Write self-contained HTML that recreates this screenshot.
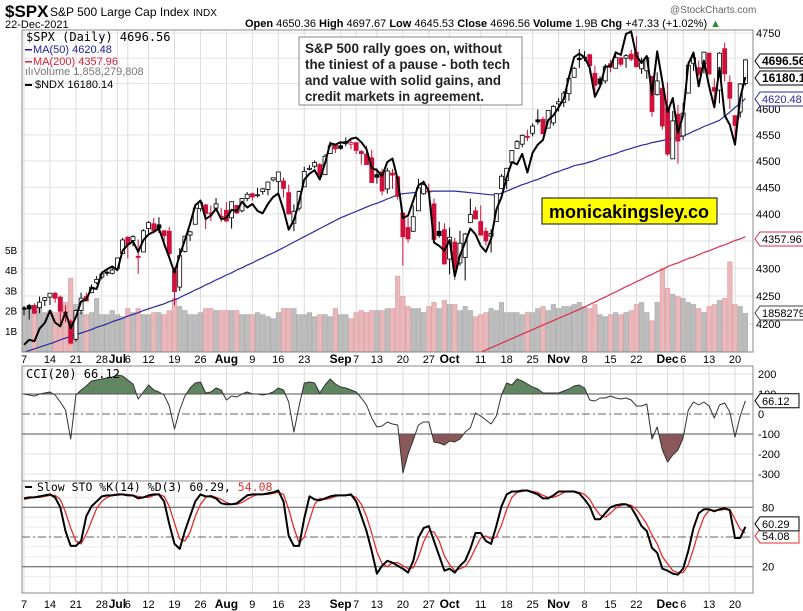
<!DOCTYPE html>
<html><head><meta charset="utf-8"><style>
html,body{margin:0;padding:0;background:#fff;}
svg{display:block;font-family:"Liberation Sans",Arial,sans-serif;}
</style></head><body>
<svg id="chart" width="803" height="611" viewBox="0 0 803 611" xmlns="http://www.w3.org/2000/svg">
<defs>
<clipPath id="mainClip"><rect x="22" y="30" width="731" height="322"/></clipPath>
<clipPath id="cciClip"><rect x="22" y="366" width="731" height="115"/></clipPath>
<clipPath id="stoClip"><rect x="22" y="481" width="731" height="112"/></clipPath>
<clipPath id="cciUp"><rect x="22" y="366" width="731" height="28"/></clipPath>
<clipPath id="cciDn"><rect x="22" y="434" width="731" height="47"/></clipPath>
</defs>
<g>
<text x="5" y="17" font-size="17" font-weight="bold">$SPX</text>
<text x="50" y="16" font-size="12">S&amp;P 500 Large Cap Index</text>
<text x="193" y="16" font-size="10">INDX</text>
<text x="5" y="28" font-size="11">22-Dec-2021</text>
<text x="670" y="13" font-size="10" fill="#666">@StockCharts.com</text>
<text x="245" y="27" font-size="11"><tspan font-weight="bold">Open</tspan> 4650.36 <tspan font-weight="bold">High</tspan> 4697.67 <tspan font-weight="bold">Low</tspan> 4645.53 <tspan font-weight="bold">Close</tspan> 4696.56 <tspan font-weight="bold">Volume</tspan> 1.9B <tspan font-weight="bold">Chg</tspan> +47.33 (+1.02%) <tspan fill="#2a8a2a">▲</tspan></text>
</g>
<g id="grid"></g>
<g id="main" clip-path="url(#mainClip)"></g>
<g id="cci"></g>
<g id="sto"></g>
<g id="axes"></g>
<g font-family="'DejaVu Sans Mono','Liberation Mono',monospace" font-size="11">
<text x="26" y="41" font-size="12">$SPX (Daily) 4696.56</text>
<rect x="25" y="49" width="7" height="1.5" fill="#1f1f9a"/><text x="33" y="53" fill="#1f1f9a" font-family="Liberation Sans" font-size="11">MA(50) 4620.48</text>
<rect x="25" y="61" width="7" height="1.5" fill="#d4203a"/><text x="33" y="65" fill="#d4203a" font-family="Liberation Sans" font-size="11">MA(200) 4357.96</text>
<text x="25" y="75" fill="#777" font-family="Liberation Sans" font-size="11">ılıVolume 1,858,279,808</text>
<rect x="25" y="84" width="7" height="2" fill="#000"/><text x="35" y="88" font-family="Liberation Sans" font-size="11">$NDX 16180.14</text>
</g>
<g>
<rect x="299" y="37" width="223" height="68" fill="#fff" stroke="#888" stroke-width="1"/>
<text x="305" y="53" font-size="14" font-weight="bold" fill="#222" textLength="197" lengthAdjust="spacingAndGlyphs">S&amp;P 500 rally goes on, without</text>
<text x="305" y="69" font-size="14" font-weight="bold" fill="#222" textLength="205" lengthAdjust="spacingAndGlyphs">the tiniest of a pause - both tech</text>
<text x="305" y="85" font-size="14" font-weight="bold" fill="#222" textLength="196" lengthAdjust="spacingAndGlyphs">and value with solid gains, and</text>
<text x="305" y="101" font-size="14" font-weight="bold" fill="#222" textLength="179" lengthAdjust="spacingAndGlyphs">credit markets in agreement.</text>
</g>
<g>
<rect x="542" y="198" width="175" height="26" fill="#ffff00" stroke="#333" stroke-width="1.2"/>
<text x="629" y="218" font-size="18" font-weight="bold" text-anchor="middle" textLength="160" lengthAdjust="spacingAndGlyphs">monicakingsley.co</text>
</g>
<g><text x="26" y="378" font-size="12" font-family="'DejaVu Sans Mono',monospace">CCI(20) 66.12</text></g>
<g><rect x="25" y="486" width="7" height="2" fill="#000"/><text x="37" y="491" font-size="11.5" font-family="'DejaVu Sans Mono',monospace">Slow STO %K(14) %D(3) 60.29, <tspan fill="#e03030">54.08</tspan></text></g>
</svg>
<script>
const dates=["7","8","9","10","11","14","15","16","17","18","21","22","23","24","25","28","29","30","Jul1","2","6","7","8","9","12","13","14","15","16","19","20","21","22","23","26","27","28","29","30","Aug2","3","4","5","6","9","10","11","12","13","16","17","18","19","20","23","24","25","26","27","30","31","Sep1","2","3","7","8","9","10","13","14","15","16","17","20","21","22","23","24","27","28","29","30","Oct1","4","5","6","7","8","11","12","13","14","15","18","19","20","21","22","25","26","27","28","29","Nov1","2","3","4","5","8","9","10","11","12","15","16","17","18","19","22","23","24","26","29","30","Dec1","2","3","6","7","8","9","10","13","14","15","16","17","20","21","22"];
const opens=[4229,4233,4233,4229,4242,4248,4255,4248,4220,4205,4173,4224,4249,4256,4274,4284,4293,4291,4300,4327,4357,4351,4322,4330,4373,4382,4380,4369,4368,4296,4266,4331,4361,4381,4410,4417,4402,4411,4396,4407,4393,4416,4406,4429,4438,4436,4442,4446,4464,4461,4462,4440,4383,4411,4451,4484,4490,4493,4474,4514,4530,4529,4534,4532,4535,4518,4513,4506,4474,4479,4447,4477,4470,4402,4375,4368,4406,4438,4443,4419,4368,4371,4317,4348,4310,4320,4384,4406,4386,4368,4359,4386,4448,4463,4497,4524,4532,4547,4553,4579,4580,4563,4573,4610,4613,4630,4662,4700,4702,4707,4670,4659,4655,4689,4680,4701,4700,4708,4712,4679,4675,4664,4628,4640,4602,4504,4590,4548,4631,4690,4681,4688,4710,4642,4637,4719,4652,4587,4594,4650];
const highs=[4232,4236,4237,4249,4248,4255,4257,4251,4233,4208,4226,4256,4256,4271,4286,4292,4300,4303,4320,4356,4359,4361,4353,4372,4387,4393,4394,4370,4376,4302,4337,4359,4369,4415,4422,4419,4416,4430,4411,4422,4424,4416,4430,4441,4440,4449,4449,4461,4468,4480,4468,4455,4418,4444,4489,4492,4501,4496,4513,4537,4532,4537,4545,4541,4535,4521,4529,4521,4486,4485,4487,4485,4471,4402,4394,4416,4466,4463,4457,4429,4386,4383,4375,4356,4369,4365,4429,4413,4416,4375,4372,4439,4475,4487,4520,4540,4551,4560,4572,4599,4585,4597,4608,4621,4635,4664,4683,4718,4714,4708,4685,4664,4688,4697,4714,4701,4708,4717,4744,4701,4702,4664,4672,4646,4652,4596,4608,4612,4694,4705,4695,4713,4711,4660,4712,4731,4666,4588,4651,4698];
const lows=[4215,4208,4218,4219,4232,4234,4238,4196,4203,4164,4169,4217,4240,4255,4271,4280,4286,4289,4300,4327,4318,4340,4290,4330,4365,4368,4365,4340,4323,4233,4259,4329,4350,4381,4405,4372,4387,4407,4385,4385,4373,4400,4403,4424,4425,4431,4436,4435,4461,4437,4431,4400,4368,4406,4451,4482,4486,4468,4473,4514,4515,4521,4528,4522,4513,4493,4493,4458,4457,4435,4438,4447,4427,4305,4347,4367,4406,4436,4437,4347,4356,4307,4289,4279,4305,4278,4383,4390,4360,4342,4329,4386,4448,4447,4496,4524,4526,4538,4547,4570,4551,4562,4568,4595,4604,4616,4662,4681,4694,4670,4630,4648,4650,4672,4680,4684,4681,4694,4682,4669,4659,4585,4626,4560,4510,4504,4495,4540,4631,4675,4665,4670,4666,4606,4611,4654,4600,4531,4583,4646];
const closes=[4226,4227,4219,4239,4247,4255,4246,4223,4221,4166,4224,4246,4241,4266,4280,4290,4291,4297,4319,4352,4343,4358,4320,4369,4384,4369,4374,4360,4327,4258,4323,4359,4367,4411,4422,4401,4400,4419,4395,4387,4423,4402,4429,4437,4432,4436,4447,4460,4468,4479,4448,4400,4405,4442,4480,4486,4497,4470,4509,4529,4523,4524,4537,4535,4520,4514,4493,4459,4469,4443,4481,4473,4433,4358,4354,4395,4449,4455,4443,4353,4360,4308,4357,4300,4346,4363,4399,4391,4361,4350,4364,4438,4471,4486,4520,4537,4549,4545,4567,4575,4552,4597,4605,4614,4631,4660,4680,4697,4702,4685,4646,4649,4683,4682,4701,4688,4705,4698,4683,4691,4701,4595,4655,4567,4513,4577,4538,4592,4686,4701,4668,4712,4669,4635,4710,4669,4621,4568,4649,4696.56];
const volumeB=[2.0,2.1,2.0,2.2,1.9,2.0,1.9,2.3,2.4,3.6,2.3,1.9,1.8,1.9,2.6,1.8,1.8,2.0,1.8,1.7,2.1,1.9,2.1,1.8,1.8,1.9,1.9,1.8,2.0,2.6,2.2,2.0,1.8,1.8,1.9,2.1,2.1,2.0,2.0,2.0,2.0,2.0,1.8,1.8,1.8,1.9,1.8,1.7,1.6,1.9,2.1,2.1,2.1,1.8,1.8,1.9,1.7,1.8,1.8,1.7,2.1,1.8,1.8,1.6,1.9,2.0,1.9,2.0,2.0,2.0,2.1,2.1,3.7,2.7,2.2,2.1,2.1,1.9,2.2,2.4,2.1,2.5,2.3,2.3,2.0,2.2,2.0,1.7,1.8,1.9,2.1,2.0,2.4,1.9,1.9,1.9,1.8,1.9,1.9,2.1,2.2,2.0,2.3,2.1,2.2,2.2,2.3,2.4,2.2,2.1,2.3,1.8,1.7,1.8,1.9,1.8,1.9,2.0,2.3,2.4,1.9,1.5,2.4,4.1,3.1,2.8,2.7,2.6,2.4,2.3,2.1,1.9,2.2,2.3,2.5,2.6,4.4,2.3,2.2,1.86];
const ndx=[13881,13924,13912,14020,14070,14174,14072,14040,14161,14024,14121,14254,14271,14370,14361,14500,14529,14554,14522,14690,14740,14770,14680,14780,14830,14850,14880,14750,14630,14500,14650,14780,14920,15080,15120,14960,14990,15050,14960,14970,15040,15030,15110,15060,15090,15030,15010,15090,15150,15180,15040,14870,14950,15110,15300,15350,15380,15300,15440,15610,15600,15620,15610,15650,15660,15620,15560,15400,15380,15330,15450,15480,15300,14970,14990,15120,15250,15280,15200,14760,14730,14690,14780,14470,14650,14760,14880,14830,14730,14680,14790,15040,15150,15320,15450,15430,15520,15360,15530,15600,15640,15810,15850,15920,15990,16180,16350,16380,16350,16260,16010,16100,16270,16270,16390,16370,16550,16570,16360,16300,16360,16030,16400,16140,15880,16000,15700,15850,16290,16390,16100,16320,16100,15920,16260,15850,15770,15600,16000,16180.14];
const ma50=[4150,4153,4156,4159,4162,4165,4168,4172,4175,4178,4181,4184,4187,4190,4194,4197,4200,4204,4207,4210,4214,4217,4220,4224,4227,4230,4233,4236,4240,4243,4247,4252,4256,4261,4265,4270,4274,4279,4283,4288,4292,4297,4301,4306,4310,4315,4319,4324,4328,4333,4338,4343,4348,4353,4358,4363,4368,4373,4378,4383,4388,4393,4397,4401,4405,4409,4413,4417,4420,4424,4428,4432,4436,4438,4439,4440,4441,4442,4442,4443,4443,4443,4443,4443,4442,4441,4440,4439,4438,4437,4436,4436,4439,4443,4447,4451,4455,4458,4462,4465,4469,4473,4477,4480,4484,4487,4491,4493,4495,4498,4501,4505,4508,4511,4514,4518,4521,4524,4527,4530,4532,4535,4537,4539,4541,4543,4546,4548,4552,4557,4561,4566,4570,4574,4578,4586,4594,4603,4611,4620.48];
const ma200=[null,null,null,null,null,null,null,null,null,null,null,null,null,null,null,null,null,null,null,null,null,null,null,null,null,null,null,null,null,null,null,null,null,null,null,null,null,null,null,null,null,null,null,null,null,null,null,null,null,null,null,null,null,null,null,null,null,null,null,null,null,null,null,null,null,null,null,null,null,null,null,null,null,null,null,null,null,null,null,null,null,null,null,null,null,null,null,4146,4150,4154,4158,4162,4166,4170,4174,4178,4182,4186,4190,4194,4198,4202,4206,4210,4214,4218,4222,4226,4230,4235,4239,4244,4248,4253,4257,4262,4267,4271,4276,4280,4285,4289,4294,4298,4303,4307,4310,4314,4318,4321,4325,4329,4332,4336,4340,4343,4347,4351,4354,4357.96];
const cci=[100,95,90,100,105,110,95,60,20,-125,95,120,140,165,170,175,180,185,195,190,170,150,75,110,145,120,110,95,40,-75,20,90,130,155,160,105,110,130,120,70,90,85,100,110,100,100,95,100,110,130,120,60,-90,40,155,160,155,105,145,175,150,135,130,120,110,80,45,-20,-65,-60,-40,-50,-55,-295,-200,-130,-55,-40,-40,-140,-145,-155,-135,-140,-125,-90,-70,5,-10,-30,-50,-10,95,155,145,175,165,150,135,125,105,105,105,105,115,125,140,145,130,70,65,80,80,90,80,75,80,70,40,40,50,-125,-65,-180,-240,-205,-180,-120,20,60,45,60,40,-20,45,55,10,-115,-10,66.12];
const stoK=[89,90,90,91,92,93,90,80,56,41,41,46,71,81,86,91,92,92,93,93,92,92,89,90,92,93,93,86,63,43,38,56,71,86,93,91,91,89,84,83,83,84,88,92,93,93,93,94,95,97,86,51,41,41,69,91,88,87,89,91,92,92,92,93,86,71,56,36,13,21,26,24,21,18,14,26,49,59,61,46,31,16,18,14,21,26,38,54,54,46,43,61,81,93,96,96,97,97,95,93,89,89,92,96,96,96,96,94,88,81,68,68,74,80,82,83,83,80,71,61,56,39,34,18,16,13,12,18,36,59,74,78,78,76,78,79,77,49,49,60.29];
const stoD=[88,89,90,90,91,92,92,88,75,59,46,43,53,66,79,86,90,92,92,93,93,92,91,90,90,92,93,91,81,64,48,46,55,71,83,90,92,90,88,85,83,83,85,88,91,93,93,93,94,95,93,78,59,44,50,67,83,89,88,89,91,92,92,92,90,83,71,54,35,23,20,24,24,21,18,19,30,45,56,55,46,31,22,16,18,20,28,39,49,51,48,50,62,78,90,95,96,97,96,95,92,90,90,92,95,96,96,95,93,88,79,72,70,74,79,82,83,82,78,71,63,52,43,30,23,16,14,14,22,38,56,70,77,77,77,78,78,68,58,54.08];
const axisLabels=[[0,"7"],[5,"14"],[10,"21"],[15,"28"],[18,"Jul"],[20,"6"],[24,"12"],[29,"19"],[34,"26"],[39,"Aug"],[44,"9"],[49,"16"],[54,"23"],[61,"Sep"],[64,"7"],[68,"13"],[73,"20"],[78,"27"],[82,"Oct"],[88,"11"],[93,"18"],[98,"25"],[103,"Nov"],[108,"8"],[113,"15"],[118,"22"],[124,"Dec"],[127,"6"],[132,"13"],[137,"20"]];
const priceTicks=[4200,4250,4300,4350,4400,4450,4500,4550,4600,4650,4700,4750];
const priceTickLabels=[4200,4250,4300,4400,4450,4500,4550,4600,4750];
const volTicks=[1,2,3,4,5];
const cciTicks=[200,100,0,-100,-200,-300];
const stoTicks=[80,50,20];

const NS="http://www.w3.org/2000/svg";
const L=22,R=753;
const xOf=i=>24+i*5.19;
const py=v=>109-(Math.log(v)-Math.log(4600))*2363;
const ny=v=>77+(16180-v)*0.1165;
const vy=b=>351-b*20.25;
const cy=v=>414-v*0.2;
const sy=v=>586.5-v*0.99;
function mk(tag,attrs,parent){const e=document.createElementNS(NS,tag);for(const k in attrs)e.setAttribute(k,attrs[k]);parent.appendChild(e);return e;}
const grid=document.getElementById('grid'),main=document.getElementById('main'),cciG=document.getElementById('cci'),stoG=document.getElementById('sto'),axes=document.getElementById('axes');

[[30,352],[366,481],[481,593]].forEach(p=>{
  axisLabels.forEach(a=>{const l=mk('line',{x1:xOf(a[0]),x2:xOf(a[0]),y1:p[0],y2:p[1],stroke:'#dcdcdc','stroke-width':1},grid);
  
  });
});
priceTicks.forEach(t=>{const l=mk('line',{x1:L,x2:R,y1:py(t),y2:py(t),stroke:'#e2e2e2'},grid);

});
[-300,-200,200].forEach(t=>mk('line',{x1:L,x2:R,y1:cy(t),y2:cy(t),stroke:'#e2e2e2'},grid));
for(let v=10;v<100;v+=10){mk('line',{x1:L,x2:R,y1:sy(v),y2:sy(v),stroke:'#ececec'},grid);}

volumeB.forEach((b,i)=>{const down=i>0&&closes[i]<closes[i-1];
 const r=mk('rect',{x:xOf(i)-2.3,y:vy(b),width:4.6,height:351-vy(b)+1,fill:down?'#eab7bb':'#bdbdbd',stroke:down?'#d89aa0':'#a8a8a8','stroke-width':0.5},main);
 
 });
function line(arr,fy,stroke,w,parent,name){let d='';arr.forEach((v,i)=>{if(v==null)return;d+=(d?'L':'M')+xOf(i).toFixed(1)+','+fy(v).toFixed(1);});
 const p=mk('path',{d:d,fill:'none',stroke:stroke,'stroke-width':w,'stroke-linejoin':'round'},parent);
 
 return p;}
line(ma200,py,'#d8304a',1.2,main,'ma200-line');
line(ma50,py,'#2a2aa0',1.2,main,'ma50-line');
closes.forEach((c,i)=>{const o=opens[i],x=xOf(i);const down=i>0&&c<closes[i-1];const col=down?'#d0103a':'#000';
 const w=mk('line',{x1:x,x2:x,y1:py(highs[i]),y2:py(lows[i]),stroke:col,'stroke-width':1},main);
 
 
 const top=py(Math.max(o,c)),bot=py(Math.min(o,c));
 const b=mk('rect',{x:x-2,y:top,width:4,height:Math.max(1,bot-top),fill:c<o?col:'#fff',stroke:col,'stroke-width':0.8},main);
 
 });
line(ndx,ny,'#000',2,main,'ndx-line');
mk('rect',{x:L,y:30,width:R-L,height:322,fill:'none',stroke:'#888'},axes);

mk('rect',{x:L,y:366,width:R-L,height:115,fill:'none',stroke:'#888'},axes);
let cd='';cci.forEach((v,i)=>{cd+=(i?'L':'M')+xOf(i).toFixed(1)+','+cy(v).toFixed(1);});
const upA=mk('path',{d:cd+`L${xOf(cci.length-1)},${cy(100)}L${xOf(0)},${cy(100)}Z`,fill:'#5f8660','clip-path':'url(#cciUp)'},cciG);


const dnA=mk('path',{d:cd+`L${xOf(cci.length-1)},${cy(-100)}L${xOf(0)},${cy(-100)}Z`,fill:'#8a5858','clip-path':'url(#cciDn)'},cciG);


mk('line',{x1:L,x2:R,y1:cy(100),y2:cy(100),stroke:'#555'},cciG);
mk('line',{x1:L,x2:R,y1:cy(-100),y2:cy(-100),stroke:'#555'},cciG);
mk('line',{x1:L,x2:R,y1:cy(0),y2:cy(0),stroke:'#666','stroke-dasharray':'8,3,2,3'},cciG);
const cl=line(cci,cy,'#333',1,cciG,'cci-line');cl.setAttribute('clip-path','url(#cciClip)');

mk('line',{x1:L,x2:R,y1:sy(80),y2:sy(80),stroke:'#555'},stoG);
mk('line',{x1:L,x2:R,y1:sy(20),y2:sy(20),stroke:'#555'},stoG);
mk('line',{x1:L,x2:R,y1:sy(50),y2:sy(50),stroke:'#666','stroke-dasharray':'8,3,2,3'},stoG);
const dl=line(stoD,sy,'#e03030',1.3,stoG,'sto-d-line');dl.setAttribute('clip-path','url(#stoClip)');
const kl=line(stoK,sy,'#000',2,stoG,'sto-k-line');kl.setAttribute('clip-path','url(#stoClip)');
mk('rect',{x:L,y:481,width:R-L,height:112,fill:'none',stroke:'#888'},axes);

function txt(x,y,s,attrs,name){const t=mk('text',Object.assign({x:x,y:y,'font-size':11},attrs||{}),axes);t.textContent=s;
 
 return t;}
[359,604].forEach(yy=>axisLabels.forEach(a=>{const bold=/[A-Za-z]/.test(a[1]);
 txt(xOf(a[0]),yy+4,a[1],{'text-anchor':'middle','font-weight':bold?'bold':'normal','font-size':bold?12:11},'x-tick-label');}));
priceTickLabels.forEach(t=>txt(756,py(t)+4,String(t),{'font-size':11},'price-tick-label'));
volTicks.forEach(t=>txt(5,vy(t)+4,t+'B',{'font-size':10},'volume-tick-label'));
cciTicks.forEach(t=>txt(758,cy(t)+4,String(t),{'font-size':11},'cci-tick-label'));
stoTicks.forEach(t=>{if(t!==50)txt(762,sy(t)+4,String(t),{'font-size':11},'sto-tick-label');});
function tag(y,s,color,bold,name){const w=s.length*6.6+6;
 const p=mk('path',{d:`M755,${y}L760,${y-7}L${760+w},${y-7}L${760+w},${y+7}L760,${y+7}Z`,fill:'#fff',stroke:color,'stroke-width':1},axes);
 
 
 txt(762,y+4,s,{'font-size':bold?12:11,'font-weight':bold?'bold':'normal',fill:color==='#2a2aa0'?'#2a2aa0':'#000'},name);}
tag(61,'4696.56','#000',true,'last-price-tag');
tag(78,'16180.14','#000',true,'ndx-tag');
tag(99,'4620.48','#2a2aa0',false,'ma50-tag');
tag(239,'4357.96','#d8304a',false,'ma200-tag');
tag(313,'1858279','#444',false,'volume-tag');
tag(cy(66.12),'66.12','#000',false,'cci-value-tag');
tag(sy(54.08)+3,'54.08','#e03030',false,'sto-d-tag');
tag(sy(60.29)-3,'60.29','#000',false,'sto-k-tag');
</script>
</body></html>
